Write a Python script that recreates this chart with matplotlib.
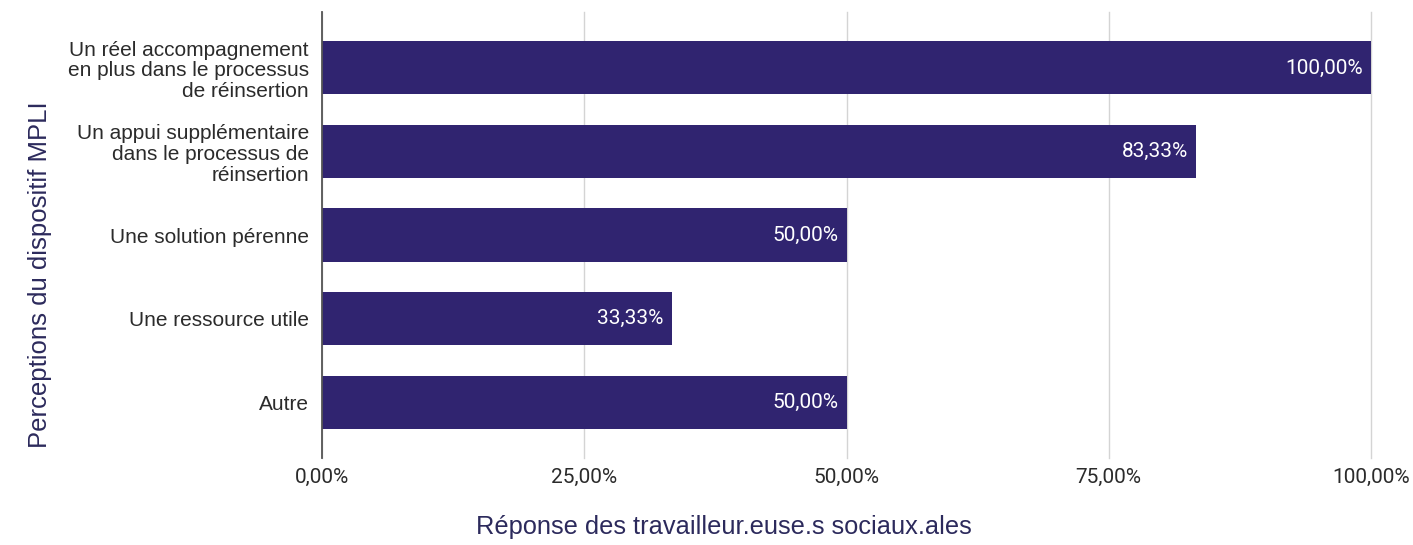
import numpy as np
import matplotlib.pyplot as plt

categories = [
    "Un réel accompagnement\nen plus dans le processus\nde réinsertion",
    "Un appui supplémentaire\ndans le processus de\nréinsertion",
    "Une solution pérenne",
    "Une ressource utile",
    "Autre",
]
values = [100.00, 83.33, 50.00, 33.33, 50.00]
xticks = [0, 25, 50, 75, 100]

bar_color = "#302470"
text_color = "#2b2b2b"
title_color = "#2c2a5c"

fig = plt.figure(figsize=(14.13, 5.45), dpi=100)
ax = fig.add_axes([322 / 1413, 1 - 458 / 545, 1049 / 1413, 446 / 545])

y = np.arange(len(categories))
ax.barh(y, values, height=0.635, color=bar_color, zorder=3)

for yi, v in zip(y, values):
    label = f"{v:.2f}%".replace(".", ",")
    ax.text(v - 0.8, yi, label, ha="right", va="center", color="white",
            fontsize=15, family="Roboto", zorder=4)

ax.set_xlim(0, 100)
ax.set_ylim(len(categories) - 0.33, -0.67)
ax.set_yticks(y)
ax.set_yticklabels(categories, fontsize=15, family="Liberation Sans",
                   color=text_color, linespacing=1.12)
ax.set_xticks(xticks)
ax.set_xticklabels([f"{t:.2f}%".replace(".", ",") for t in xticks],
                   fontsize=15, family="Roboto", color=text_color)
ax.tick_params(length=0)
ax.tick_params(axis="x", pad=7)
ax.tick_params(axis="y", pad=9.5)

ax.grid(axis="x", color="#d4d4d4", linewidth=1, zorder=0)
for line in ax.get_xgridlines():
    line.set_clip_on(False)
for s in ["top", "right", "bottom"]:
    ax.spines[s].set_visible(False)
ax.spines["left"].set_color("#555555")
ax.spines["left"].set_linewidth(1.3)
ax.spines["left"].set_zorder(5)

fig.text(724 / 1413, 1 - 527 / 545, "Réponse des travailleur.euse.s sociaux.ales",
         ha="center", va="center", fontsize=18.3, family="Liberation Sans",
         color=title_color)
fig.text(40 / 1413, 1 - 275 / 545, "Perceptions du dispositif MPLI",
         ha="center", va="center", rotation=90, fontsize=18.5,
         family="Liberation Sans", color=title_color)

fig.savefig("out.png", dpi=100)
